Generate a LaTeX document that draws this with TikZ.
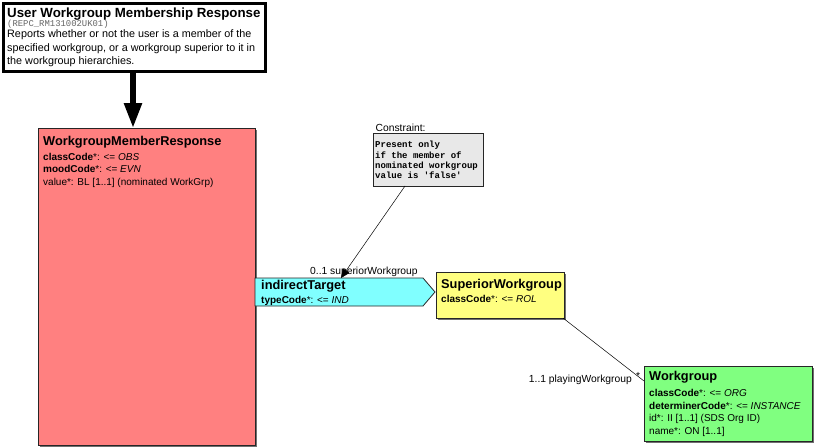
\documentclass[tikz,border=0pt]{standalone}
\usepackage{fontspec}
\setmainfont{Liberation Sans}
\newfontfamily\cmono{Liberation Mono}
\usetikzlibrary{arrows.meta}
\definecolor{actred}{HTML}{FF8080}
\definecolor{actcyan}{HTML}{80FFFF}
\definecolor{actyellow}{HTML}{FFFF80}
\definecolor{actgreen}{HTML}{80FF80}
\definecolor{notegray}{HTML}{E8E8E8}
\definecolor{shadowgray}{HTML}{707070}
\begin{document}
\begin{tikzpicture}[x=1pt,y=-1pt,
  classbox/.style={draw=black!85, line width=0.8pt, inner sep=0pt, anchor=north west},
  ttl/.style={anchor=base west, inner sep=0pt, font=\fontsize{12.8}{15}\selectfont\bfseries},
  attr/.style={anchor=base west, inner sep=0pt, font=\fontsize{10}{11}\selectfont},
  lbl/.style={anchor=base west, inner sep=0pt, font=\fontsize{10.3}{12}\selectfont},
  conn/.style={draw=black, line width=0.5pt}]
\useasboundingbox (0,0) rectangle (814,447);
\fill[white] (0,0) rectangle (814,447);

% header
\node[draw=black, line width=3pt, anchor=north west, inner sep=0pt, minimum width=262pt, minimum height=68pt] (hdr) at (2,2) {};
\node[anchor=base west, inner sep=0pt, font=\fontsize{13.3}{15}\selectfont\bfseries] (hdrt) at (7,17) {User Workgroup Membership Response};
\node[anchor=base west, inner sep=0pt, font=\cmono\fontsize{8.9}{10}\selectfont, text=black!60] (hdrid) at (7,27) {(REPC\_RM131002UK01)};
\node[anchor=north west, inner sep=0pt, align=left, font=\fontsize{10.8}{13.5}\selectfont] (hdrd) at (7,29.5) {Reports whether or not the user is a member of the\\specified workgroup, or a workgroup superior to it in\\the workgroup hierarchies.};

% WorkgroupMemberResponse
\fill[shadowgray] (40,130) rectangle (257,447);
\node[classbox, fill=actred, minimum width=217pt, minimum height=317pt] (wmr) at (38,128) {};
\node[ttl] (wmrt) at (43,145) {WorkgroupMemberResponse};
\node[attr] (wmra) at (43,160) {\textbf{classCode}*: <= \textit{OBS}};
\node[attr] (wmrb) at (43,172.5) {\textbf{moodCode}*: <= \textit{EVN}};
\node[attr] (wmrc) at (43,185) {value*: BL [1..1] (nominated WorkGrp)};

% thick arrow from header
\coordinate (hdrb) at (133,70);
\draw[line width=5.5pt, -{Triangle[length=25pt,width=17pt]}] (hdrb) -- (wmr.north -| hdrb);

% constraint note
\node[draw=black!85, fill=notegray, line width=0.8pt, anchor=north west, inner sep=0pt, minimum width=110pt, minimum height=53pt] (cons) at (373,133) {};
\node[anchor=base west, inner sep=0.5pt, fill=white, font=\fontsize{10.3}{12}\selectfont] (consl) at (375,131) {Constraint:};
\node[anchor=north west, inner sep=0pt, align=left, font=\cmono\bfseries\fontsize{9}{10.4}\selectfont] (const) at (375,141) {Present only\\if the member of\\nominated workgroup\\value is 'false'};

% indirectTarget
\coordinate (itnw) at (255,278);
\draw[fill=actcyan, draw=black!85, line width=0.8pt] (itnw) -- (423,278) -- (435,292) -- (423,306) -- (255,306) -- cycle;
\coordinate (ittip) at (341,278);
\node[ttl] (itt) at (261,289) {indirectTarget};
\node[attr] (ita) at (261,303) {\textbf{typeCode}*: <= \textit{IND}};
\node[lbl] (itl) at (310,274.5) {0..1 superiorWorkgroup};

% constraint connector
\draw[conn, -{Triangle[length=9pt,width=8pt]}] (405,186) -- (ittip);

% SuperiorWorkgroup
\fill[shadowgray] (438,274) rectangle (566,320);
\node[classbox, fill=actyellow, minimum width=128pt, minimum height=46pt] (sw) at (436,272) {};
\node[ttl] (swt) at (441,288.5) {SuperiorWorkgroup};
\node[attr] (swa) at (441,302) {\textbf{classCode}*: <= \textit{ROL}};

% Workgroup
\fill[shadowgray] (646,368) rectangle (814,443);
\node[classbox, fill=actgreen, minimum width=168pt, minimum height=75pt] (wg) at (644,366) {};
\node[ttl] (wgt) at (649,380.5) {Workgroup};
\node[attr] (wga) at (649,396) {\textbf{classCode}*: <= \textit{ORG}};
\node[attr] (wgb) at (649,409) {\textbf{determinerCode}*: <= \textit{INSTANCE}};
\node[attr] (wgc) at (649,421.5) {id*: II [1..1] (SDS Org ID)};
\node[attr] (wgd) at (649,434) {name*: ON [1..1]};

% SW -> WG connector
\coordinate (swb) at (563,318);
\coordinate (wgin) at (644,381);
\draw[conn] (swb) -- (wgin);
\node[lbl, anchor=base east] (wgl) at (632,382) {1..1 playingWorkgroup};
\node[lbl] (wgs) at (636,379) {*};
\end{tikzpicture}
\end{document}
